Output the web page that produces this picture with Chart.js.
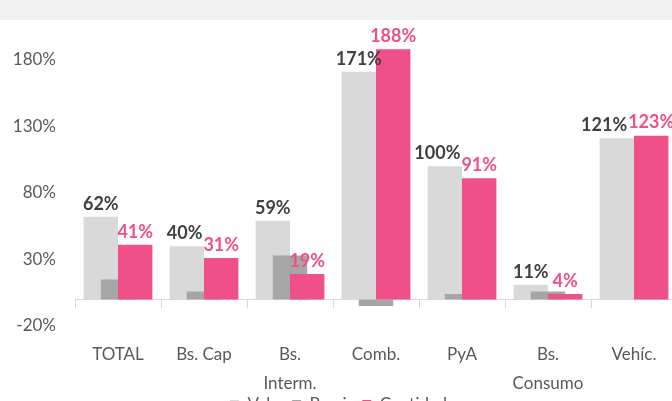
<!DOCTYPE html>
<html lang="es">
<head>
<meta charset="utf-8">
<title>Variación por categoría</title>
<script src="https://cdn.jsdelivr.net/npm/chart.js@4.4.1/dist/chart.umd.min.js"></script>
<style>
  html, body { margin: 0; padding: 0; background: #ffffff; overflow: hidden; }
  body { width: 672px; height: 401px; position: relative; }
  #banda { position: absolute; left: 0; top: 0; width: 672px; height: 20px; background: #f2f2f2; }
  #contenedor { position: absolute; left: 0; top: 0; width: 680px; height: 423px; }
</style>
</head>
<body>
<div id="banda"></div>
<div id="contenedor"><canvas id="grafica"></canvas></div>
<script>
 //Se declaran los datos de la grafica
 var categorias=["TOTAL","Bs. Cap",["Bs.","Interm."],"Comb.","PyA",["Bs.","Consumo"],"Vehíc."];
 var valor=[62,40,59,171,100,11,121];
 var precio=[15,6,33,-5,4,6,0];
 var cantidad=[41,31,19,188,91,4,123];
 var marcasY=[-20,30,80,130,180];

 var gris="#595959";
 var fuente="Lato";

 //Se dibujan las barras en el orden de los datasets (Cantidad queda encima)
 var ordenDibujo={
   id:"ordenDibujo",
   beforeDatasetsDraw(chart){
     chart.data.datasets.forEach(function(d,i){
       chart.getDatasetMeta(i).controller.draw();
     });
     return false;
   }
 };

 //Se escriben las etiquetas de porcentaje sobre las barras
 var etiquetas={
   id:"etiquetas",
   afterDraw(chart){
     var ctx=chart.ctx;
     ctx.save();
     ctx.font="bold 18px "+fuente;
     ctx.textAlign="center";
     ctx.textBaseline="bottom";
     var barrasCant=chart.getDatasetMeta(2).data;
     chart.data.datasets.forEach(function(d,i){
       if(!d.colorEtiqueta){ return; }
       ctx.fillStyle=d.colorEtiqueta;
       chart.getDatasetMeta(i).data.forEach(function(barra,j){
         var texto=d.data[j]+"%";
         var x=barra.x;
         //Si la etiqueta de Valor choca con la de Cantidad se recorre a la izquierda
         if(i==0){
           var otra=barrasCant[j];
           var w1=ctx.measureText(texto).width;
           var w2=ctx.measureText(cantidad[j]+"%").width;
           var choque=(x+w1/2)-(otra.x-w2/2);
           if(choque>0 && Math.abs(barra.y-otra.y)<18){ x-=choque+1; }
         }
         ctx.fillText(texto,x,barra.y-4);
       });
     });
     ctx.restore();
   }
 };

 var ctx=document.getElementById("grafica").getContext("2d");
 var miGrafica=new Chart(ctx,{
   type:"bar",
   data:{
     labels:categorias,
     datasets:[{
       label:"Valor",
       data:valor,
       backgroundColor:"#d9d9d9",
       colorEtiqueta:"#404040",
       categoryPercentage:0.8,
       barPercentage:1
     },{
       label:"Precio",
       data:precio,
       backgroundColor:"#a6a6a6",
       grouped:false,
       categoryPercentage:0.4,
       barPercentage:1
     },{
       label:"Cantidad",
       data:cantidad,
       backgroundColor:"#ef5089",
       colorEtiqueta:"#ef5089",
       categoryPercentage:0.8,
       barPercentage:1
     }]
   },
   options:{
     responsive:true,
     maintainAspectRatio:false,
     animation:false,
     layout:{ padding:{ top:19, right:3, left:0, bottom:0 } },
     plugins:{
       tooltip:{ enabled:false },
       legend:{
         position:"bottom",
         labels:{ boxWidth:9, boxHeight:9, padding:6, color:gris, font:{ family:fuente, size:17 } }
       }
     },
     scales:{
       x:{
         grid:{ display:false, drawTicks:false },
         border:{ display:false },
         ticks:{ color:gris, padding:14, maxRotation:0, autoSkip:false, font:{ family:fuente, size:17, lineHeight:1.72 } },
         afterFit:function(s){ s.height=64; }
       },
       cero:{
         type:"category",
         axis:"x",
         position:{ y:0 },
         offset:true,
         grid:{ display:true, drawOnChartArea:false, drawTicks:true, tickLength:8, offset:true, color:"#d9d9d9" },
         border:{ display:true, color:"#d9d9d9", width:1 },
         ticks:{ display:false }
       },
       y:{
         min:-20,
         max:203,
         grid:{ display:false, drawTicks:false },
         border:{ display:false },
         ticks:{ color:gris, padding:19, font:{ family:fuente, size:17 }, callback:function(v){ return v+"%"; } },
         afterBuildTicks:function(s){ s.ticks=marcasY.map(function(v){ return {value:v}; }); },
         afterFit:function(s){ s.width=75; }
       }
     }
   },
   plugins:[ordenDibujo,etiquetas]
 });
</script>
</body>
</html>
